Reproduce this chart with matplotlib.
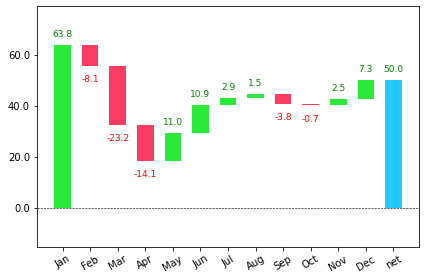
import numpy as np
import matplotlib.pyplot as plt
from matplotlib.ticker import FuncFormatter

months = ['Jan', 'Feb', 'Mar', 'Apr', 'May', 'Jun', 'Jul', 'Aug', 'Sep', 'Oct', 'Nov', 'Dec']
changes = [63.8, -8.1, -23.2, -14.1, 11.0, 10.9, 2.9, 1.5, -3.8, -0.7, 2.5, 7.3]
net_label = 'net'

green, red, blue = '#29EA38', '#FB3C62', '#24CAFF'

amounts = np.array(changes + [sum(changes)])
labels = months + [net_label]
bottoms = np.concatenate([[0], np.cumsum(changes)])
bottoms[-1] = 0
colors = [green if v >= 0 else red for v in changes] + [blue]

# range used for y limits (running totals)
running = np.cumsum(changes)
plot_max = max(running.max(), amounts[-1])
plot_min = 0
offset = plot_max / 15
pos_offset = plot_max / 40

fig, ax = plt.subplots(figsize=(424 / 72, 280 / 72), dpi=72)
ax.yaxis.set_major_formatter(FuncFormatter(lambda x, pos: '{:,.1f}'.format(x)))

x = np.arange(len(amounts))
ax.bar(x, amounts, width=0.6, bottom=bottoms, color=colors)

# value labels
for i, v in enumerate(amounts):
    y = bottoms[i] + v
    if v > 0:
        ax.annotate('{:,.1f}'.format(v), (i, y + pos_offset * 2), ha='center', color='g', fontsize=9)
    else:
        ax.annotate('{:,.1f}'.format(v), (i, y - pos_offset * 4), ha='center', color='r', fontsize=9)

ax.set_ylim(plot_min - 3.6 * offset, plot_max + 3.6 * offset)
ax.set_xticks(x)
ax.set_xticklabels(labels, rotation=30)
ax.axhline(0, color='black', linewidth=0.6, linestyle='dashed')

fig.subplots_adjust(left=37 / 424, right=419 / 424, top=1 - 6 / 280, bottom=1 - 247 / 280)
plt.savefig('out.png')
